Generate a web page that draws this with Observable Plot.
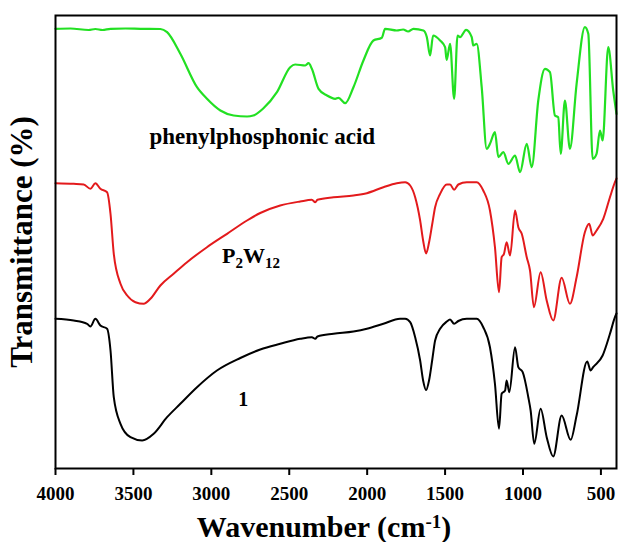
<!DOCTYPE html>
<html><head><meta charset="utf-8">
<script src="https://cdn.jsdelivr.net/npm/d3@7"></script>
<script src="https://cdn.jsdelivr.net/npm/@observablehq/plot@0.6"></script>
<style>html,body{margin:0;padding:0;background:#fff;}</style>
</head><body><div id="chart"></div>
<script>
// Phenylphosphonic acid (green)
const acidWn = [4000,3904,3788,3744,3699,3647,3551,3455,3327,3284,3199,3092,3028,2942,2857,2771,2731,2667,2579,2494,2462,2397,2376,2355,2312,2258,2205,2184,2141,2088,2024,1960,1906,1885,1810,1769,1737,1703,1639,1617,1596,1577,1532,1500,1490,1468,1442,1420,1404,1365,1329,1319,1297,1265,1233,1212,1180,1158,1126,1094,1051,1019,976,944,902,859,827,795,774,758,731,699,656,603,581,553,528,506,489,453,421,400];
const acidT = [43.97,44.0,43.85,43.95,43.85,43.97,44.0,43.97,43.95,43.63,41.47,38.13,36.97,35.8,35.3,35.2,35.3,36.0,37.63,40.13,40.4,40.3,40.53,39.97,37.97,37.3,36.97,37.07,36.53,38.13,40.8,42.8,43.07,43.97,43.8,43.9,43.7,43.97,43.8,43.13,41.3,43.3,42.8,42.13,40.85,42.47,36.97,43.3,43.13,43.87,43.13,42.3,42.47,38.13,31.97,32.47,33.63,31.13,31.63,30.47,31.3,29.63,32.47,30.13,36.8,39.97,39.63,35.3,35.13,31.47,36.8,31.97,38.47,44.13,43.47,30.97,31.47,33.8,32.8,42.13,37.8,35.47];
// P2W12 (red)
const p2w12Wn = [4000,3883,3819,3776,3744,3712,3669,3647,3626,3583,3540,3487,3434,3391,3327,3242,3156,3028,2899,2771,2686,2558,2430,2355,2333,2319,2216,2088,2002,1896,1810,1756,1724,1692,1660,1641,1622,1603,1583,1564,1532,1489,1468,1442,1415,1361,1297,1255,1212,1180,1154,1137,1122,1105,1083,1051,1030,1008,976,955,930,887,848,806,752,699,656,603,575,553,528,485,442,410,400];
const p2w12T = [28.53,28.47,28.4,27.97,28.53,27.97,27.63,25.47,21.47,18.47,17.3,16.63,16.47,16.97,18.3,19.47,20.63,22.13,23.47,24.8,25.55,26.3,26.7,26.87,26.63,26.87,27.13,27.3,27.53,28.13,28.53,28.63,28.3,27.13,24.8,22.8,21.5,22.6,24.4,26.13,27.47,28.4,28.4,27.87,28.4,28.63,28.63,27.8,25.8,22.13,17.63,21.13,21.47,22.63,21.3,25.8,24.13,23.47,21.13,19.8,16.13,19.63,16.8,14.8,19.07,16.47,19.13,23.63,24.47,23.3,23.8,24.97,27.13,28.63,29.0];
// Compound 1 (black)
const cpdWn = [4000,3883,3797,3776,3744,3712,3669,3647,3626,3583,3519,3444,3370,3284,3199,3092,2964,2814,2686,2558,2430,2355,2333,2319,2216,2088,2002,1896,1789,1756,1724,1692,1660,1641,1622,1603,1583,1564,1532,1489,1468,1442,1415,1361,1297,1255,1212,1180,1154,1137,1115,1105,1088,1051,1030,1002,966,951,928,887,848,806,752,694,656,588,566,550,489,442,410,400];
const cpdT = [14.97,14.8,14.47,14.2,14.97,14.3,13.97,11.8,7.13,4.47,3.13,2.8,3.47,5.13,6.47,8.13,9.8,11.05,11.9,12.47,12.97,13.13,12.97,13.2,13.47,13.7,13.97,14.47,14.97,14.97,14.63,13.13,10.8,8.8,7.85,8.8,10.8,12.8,13.97,14.7,14.9,14.47,14.75,14.97,14.97,14.13,12.13,8.47,3.97,7.47,7.8,8.8,7.63,12.13,10.13,9.63,7.13,5.8,2.47,5.97,3.13,1.2,5.3,2.87,5.3,10.7,9.8,10.13,11.3,13.47,15.13,15.5];

const xTicks = [4000,3500,3000,2500,2000,1500,1000,500];
const seriesLabels = ["phenylphosphonic acid", "P2W12", "1"];
const labelWn = [3397, 2931, 2827];
const labelT = [32.47, 20.55, 6.3];
const xTitle = "Wavenumber (cm-1)";
const yTitle = "Transmittance (%)";

const toRows = (wn, t) => wn.map((w, i) => ({wn: w, t: t[i]}));
const acid = toRows(acidWn, acidT);
const p2w12 = toRows(p2w12Wn, p2w12T);
const cpd = toRows(cpdWn, cpdT);

const svg = Plot.plot({
  width: 618,
  height: 542,
  marginLeft: 55,
  marginRight: 2,
  marginTop: 15,
  marginBottom: 74,
  style: {fontFamily: "'Liberation Serif', 'Times New Roman', serif", fontWeight: "bold", fontSize: "19px", background: "white", overflow: "visible"},
  x: {domain: [4000, 400], axis: null},
  y: {domain: [0, 45.3], axis: null},
  marks: [
    Plot.line(acid, {x: "wn", y: "t", stroke: "#22e022", strokeWidth: 2.2, curve: "monotone-x"}),
    Plot.line(p2w12, {x: "wn", y: "t", stroke: "#e31a1c", strokeWidth: 2, curve: "monotone-x"}),
    Plot.line(cpd, {x: "wn", y: "t", stroke: "#000", strokeWidth: 2, curve: "monotone-x"}),
    Plot.frame({stroke: "#000", strokeWidth: 2}),
    Plot.axisX({ticks: xTicks, tickFormat: d => String(d), tickSize: 7, tickPadding: 11, strokeWidth: 2, fontSize: 19, fontWeight: "bold", label: null}),
    Plot.text([0], {x: [labelWn[0]], y: [labelT[0]], text: [seriesLabels[0]], textAnchor: "start", lineAnchor: "bottom", fontSize: 23, fontWeight: "bold"}),
    Plot.text([0], {x: [labelWn[1]], y: [labelT[1]], text: [seriesLabels[1]], textAnchor: "start", lineAnchor: "bottom", fontSize: 22, fontWeight: "bold"}),
    Plot.text([0], {x: [labelWn[2]], y: [labelT[2]], text: [seriesLabels[2]], textAnchor: "start", lineAnchor: "bottom", fontSize: 20, fontWeight: "bold"}),
    Plot.text([xTitle], {text: d => d, frameAnchor: "bottom", textAnchor: "middle", lineAnchor: "middle", dx: -12, dy: 59, fontSize: 30, fontWeight: "bold"}),
    Plot.text([yTitle], {text: d => d, frameAnchor: "left", textAnchor: "middle", lineAnchor: "middle", rotate: -90, dx: -33, fontSize: 31, fontWeight: "bold"})
  ]
});

const root = d3.select(svg);
// subscripts for P2W12
root.selectAll("text").filter(function() { return this.textContent === "P2W12"; }).each(function() {
  const t = d3.select(this);
  t.text(null);
  t.append("tspan").text("P");
  t.append("tspan").attr("font-size", "15px").attr("dy", "5").text("2");
  t.append("tspan").attr("dy", "-5").text("W");
  t.append("tspan").attr("font-size", "15px").attr("dy", "5").text("12");
});
// superscript for cm-1
root.selectAll("text").filter(function() { return this.textContent === xTitle; }).each(function() {
  const t = d3.select(this);
  t.text(null);
  t.append("tspan").text("Wavenumber (cm");
  t.append("tspan").attr("font-size", "19px").attr("dy", "-9").text("-1");
  t.append("tspan").attr("dy", "9").text(")");
});

document.getElementById("chart").appendChild(svg);
</script>
</body></html>
